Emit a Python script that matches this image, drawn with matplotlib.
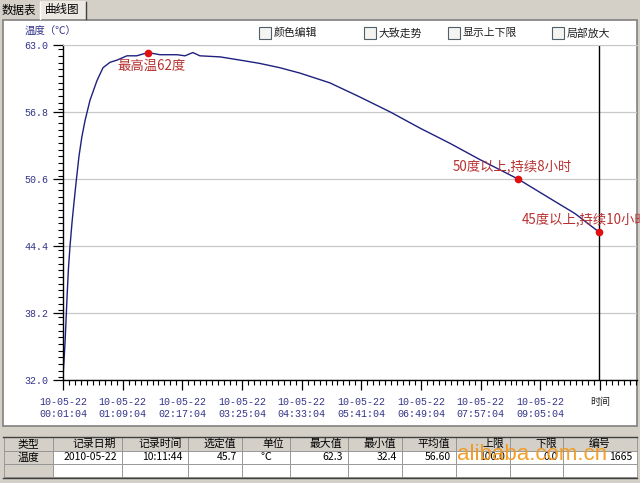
import numpy as np
import matplotlib
matplotlib.use('Agg')
import matplotlib.pyplot as plt
from matplotlib.patches import Rectangle
from matplotlib.ticker import MultipleLocator

plt.rcParams['font.family'] = ['Noto Sans CJK SC', 'DejaVu Sans']

# ---------------------------------------------------------------
# Daten: Minuten seit 10-05-22 00:01:04, Temperatur in Grad C
minutes = [0, 1.0, 2.3, 3.5, 4.8, 6.2, 8.0, 10.3, 12.5, 14.8, 18.2, 21.5,
           25.1, 30.8, 38.7, 45.6, 53.6, 61.5, 72.9, 84.0, 96.9, 110.5,
           130.0, 139.0, 148.0, 156.0, 179.0, 202.0, 224.0, 247.0, 270.0,
           304.0, 338.0, 373.0, 407.0, 441.0, 475.0, 518.5, 555.0, 583.5, 610.7]
temps = [32.4, 33.6, 35.4, 37.6, 40.0, 42.3, 44.4, 46.6, 48.4, 50.2, 52.7, 54.5,
         56.0, 57.9, 59.7, 60.9, 61.4, 61.6, 62.0, 62.0, 62.3, 62.1,
         62.1, 62.0, 62.3, 62.0, 61.9, 61.6, 61.3, 60.9, 60.4,
         59.5, 58.2, 56.8, 55.3, 53.9, 52.4, 50.6, 48.8, 47.4, 45.7]
peak_i = 20          # 最高温
i50 = 37             # 50度以上
i45 = 40             # 45度以上 (Cursor)
cursor_min = 610.67  # 10:11:44

xtick_min = [0, 68, 136, 204, 272, 340, 408, 476, 544, 612]
xtick_lab = ['10-05-22\n00:01:04', '10-05-22\n01:09:04', '10-05-22\n02:17:04',
             '10-05-22\n03:25:04', '10-05-22\n04:33:04', '10-05-22\n05:41:04',
             '10-05-22\n06:49:04', '10-05-22\n07:57:04', '10-05-22\n09:05:04',
             '时间']
ytick_vals = [32.0, 38.2, 44.4, 50.6, 56.8, 63.0]

checkboxes = ['颜色编辑', '大致走势', '显示上下限', '局部放大']
tabs = ['数据表', '曲线图']
tab_head = ['类型', '记录日期', '记录时间', '选定值', '单位', '最大值', '最小值',
            '平均值', '上限', '下限', '编号']
tab_row = ['温度', '2010-05-22', '10:11:44', '45.7', '℃', '62.3', '32.4',
           '56.60', '100.0', '0.0', '1665']

# ---------------------------------------------------------------
W, H = 640, 483
gray = '#d4d0c8'
navy = '#34348a'
red_txt = '#b83030'

fig = plt.figure(figsize=(6.4, 4.83), dpi=100, facecolor=gray)

# Hintergrund / Fensterelemente in Pixelkoordinaten
bg = fig.add_axes([0, 0, 1, 1])
bg.set_xlim(0, W)
bg.set_ylim(H, 0)
bg.axis('off')

# Tabs
bg.add_patch(Rectangle((40, 1), 46, 19, fc='#ece9e2', ec='none'))
bg.plot([40, 40], [2, 19], color='white', lw=1)
bg.plot([86, 86], [2, 19], color='#404040', lw=1)
bg.text(2, 10, tabs[0], fontsize=8.3, va='center', ha='left', color='black')
bg.text(45, 9, tabs[1], fontsize=8.3, va='center', ha='left', color='black')

# Panel
bg.add_patch(Rectangle((3, 20), 634, 406, fc='white', ec='#808080', lw=1.2))

# Checkboxen
cb_x = [259, 364, 448, 552]
for x, lab in zip(cb_x, checkboxes):
    bg.add_patch(Rectangle((x, 27), 12, 12, fc='#f4f4f0', ec='#50606a', lw=0.8))
    bg.text(x + 15, 33, lab, fontsize=7.8, va='center', ha='left', color='#202020')

bg.text(25, 32, '温度（℃）', fontsize=7.5, va='center', ha='left', color=navy)

# Tabelle
col_x = [4, 53, 122, 188, 242, 290, 348, 402, 456, 510, 563, 637]
row_y = [437, 451, 464, 477]
for j in range(len(col_x) - 1):
    x0, x1 = col_x[j], col_x[j + 1]
    for r in range(3):
        y0, y1 = row_y[r], row_y[r + 1]
        fc = gray if (r == 0 or j == 0) else 'white'
        bg.add_patch(Rectangle((x0, y0), x1 - x0, y1 - y0, fc=fc, ec='#909090', lw=0.6))
    # Kopfzeile
    if j in (0, 10):
        bg.text((x0 + x1) / 2, 444, tab_head[j], fontsize=7.8, ha='center', va='center', color='black')
    else:
        bg.text(x1 - 6, 444, tab_head[j], fontsize=7.8, ha='right', va='center', color='black')
    # Datenzeile
    if j in (0, 4):
        bg.text((x0 + x1) / 2, 457.5, tab_row[j], fontsize=7.8, ha='center', va='center', color='black')
    else:
        bg.text(x1 - 5, 457.5, tab_row[j], fontsize=7.5, ha='right', va='center', color='black')
bg.plot([3, 637], [436.5, 436.5], color='#404040', lw=1)
bg.plot([3, 637], [478, 478], color='#404040', lw=1)

# Wasserzeichen
bg.text(457, 455, 'alibaba.com.cn', fontsize=16, family='Liberation Sans',
        color='#f39a1e', ha='left', va='center', alpha=0.95)

# ---------------------------------------------------------------
# Kurve
ax = fig.add_axes([63 / W, 1 - 380 / H, 574 / W, 335 / H])
ax.set_facecolor('none')
ax.set_xlim(0, 574 / 0.8775)
ax.set_ylim(32.0, 63.0)

ax.plot(minutes, temps, color='#1f1f80', lw=1.0)
ax.axvline(cursor_min, color='black', lw=1)
for i in (peak_i, i50, i45):
    ax.plot(minutes[i], temps[i], 'o', color='#e01010', ms=4.5, mec='#e01010')

ax.annotate('最高温62度', (minutes[peak_i], temps[peak_i]), xytext=(-31, -13),
            textcoords='offset pixels', fontsize=9.6, color=red_txt, va='center', ha='left')
ax.annotate('50度以上,持续8小时', (minutes[i50], temps[i50]), xytext=(-65, 12),
            textcoords='offset pixels', fontsize=9.6, color=red_txt, va='center', ha='left')
ax.annotate('45度以上,持续10小时', (minutes[i45], temps[i45]), xytext=(-77, 12),
            textcoords='offset pixels', fontsize=9.6, color=red_txt, va='center',
            ha='left', annotation_clip=False)

ax.set_yticks(ytick_vals)
ax.set_yticklabels(['%.1f' % v for v in ytick_vals])
ax.yaxis.set_minor_locator(MultipleLocator(0.62))
ax.set_xticks(xtick_min)
ax.set_xticklabels(xtick_lab)
ax.xaxis.set_minor_locator(MultipleLocator(6.8))
ax.yaxis.grid(True, color='#c8c8c8', lw=0.9)

ax.spines['right'].set_visible(False)
ax.spines['top'].set_color('#c8c8c8')
ax.spines['left'].set_linewidth(1.0)
ax.spines['bottom'].set_linewidth(1.0)

ax.tick_params(which='major', direction='out', length=7, width=0.9, color='black',
               labelsize=7.2, labelcolor=navy)
ax.tick_params(which='minor', direction='out', length=3.5, width=0.8, color='black')
ax.tick_params(axis='x', pad=5)
ax.tick_params(axis='y', pad=3.5)
for lab in ax.get_xticklabels() + ax.get_yticklabels():
    lab.set_family(['Liberation Mono', 'Noto Sans CJK SC'])
    lab.set_linespacing(1.25)
ax.get_xticklabels()[-1].set_color('#202020')
ax.get_xticklabels()[-1].set_va('top')

fig.savefig('out.png', dpi=100, facecolor=gray)
